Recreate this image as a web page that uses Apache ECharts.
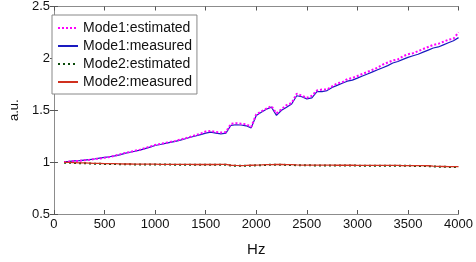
<!DOCTYPE html>
<html>
<head>
<meta charset="utf-8">
<script src="https://cdn.jsdelivr.net/npm/echarts@6/dist/echarts.min.js"></script>
<style>
  html, body { margin: 0; padding: 0; background: #fff; }
  #main { width: 476px; height: 262px; }
</style>
</head>
<body>
<div id="main"></div>
<script>
var freq = [100, 150, 200, 250, 300, 350, 400, 450, 500, 550, 600, 650, 700, 750, 800, 850, 900, 950,
  1000, 1050, 1100, 1150, 1200, 1250, 1300, 1350, 1400, 1450, 1500, 1550, 1600, 1650, 1700, 1750, 1800, 1850, 1900, 1950,
  2000, 2050, 2100, 2150, 2200, 2250, 2300, 2350, 2400, 2450, 2500, 2550, 2600, 2650, 2700, 2750, 2800, 2850, 2900, 2950,
  3000, 3050, 3100, 3150, 3200, 3250, 3300, 3350, 3400, 3450, 3500, 3550, 3600, 3650, 3700, 3750, 3800, 3850, 3900, 3950, 4000];

var mode1Measured = [1.005, 1.008, 1.012, 1.015, 1.02, 1.025, 1.03, 1.038, 1.045, 1.052, 1.06, 1.07, 1.085, 1.095, 1.105, 1.115, 1.13, 1.145,
  1.16, 1.17, 1.18, 1.19, 1.2, 1.212, 1.225, 1.24, 1.252, 1.265, 1.28, 1.29, 1.28, 1.272, 1.28, 1.355, 1.36, 1.358, 1.35, 1.33,
  1.45, 1.48, 1.51, 1.53, 1.45, 1.5, 1.53, 1.56, 1.64, 1.63, 1.61, 1.62, 1.68, 1.68, 1.69, 1.72, 1.74, 1.76, 1.78, 1.79,
  1.81, 1.83, 1.85, 1.87, 1.89, 1.91, 1.93, 1.955, 1.97, 1.99, 2.01, 2.025, 2.04, 2.06, 2.08, 2.1, 2.11, 2.13, 2.15, 2.17, 2.2];

var mode1Estimated = [1.0, 1.005, 1.01, 1.012, 1.018, 1.022, 1.03, 1.035, 1.042, 1.05, 1.062, 1.075, 1.088, 1.097, 1.11, 1.12, 1.135, 1.15,
  1.165, 1.175, 1.185, 1.195, 1.205, 1.218, 1.23, 1.245, 1.26, 1.275, 1.295, 1.3, 1.29, 1.285, 1.29, 1.37, 1.375, 1.37, 1.365, 1.34,
  1.46, 1.49, 1.515, 1.54, 1.47, 1.51, 1.55, 1.57, 1.66, 1.64, 1.62, 1.64, 1.69, 1.7, 1.7, 1.73, 1.76, 1.77, 1.8, 1.81,
  1.83, 1.85, 1.87, 1.89, 1.91, 1.94, 1.96, 1.98, 1.99, 2.02, 2.04, 2.05, 2.07, 2.09, 2.11, 2.13, 2.14, 2.16, 2.18, 2.19, 2.25];

var mode2Estimated = [0.995, 0.994, 0.992, 0.99, 0.989, 0.987, 0.985, 0.984, 0.983, 0.982, 0.982, 0.98, 0.979, 0.979, 0.978, 0.978, 0.977, 0.977,
  0.977, 0.976, 0.976, 0.976, 0.975, 0.975, 0.975, 0.975, 0.974, 0.974, 0.974, 0.974, 0.974, 0.975, 0.975, 0.967, 0.965, 0.964, 0.965, 0.967,
  0.969, 0.971, 0.973, 0.974, 0.975, 0.974, 0.973, 0.972, 0.97, 0.969, 0.969, 0.969, 0.968, 0.968, 0.968, 0.968, 0.967, 0.967, 0.967, 0.967,
  0.966, 0.966, 0.966, 0.966, 0.966, 0.965, 0.965, 0.965, 0.965, 0.964, 0.964, 0.964, 0.963, 0.963, 0.962, 0.958, 0.956, 0.955, 0.954, 0.954, 0.953];

var mode2Measured = [0.998, 0.997, 0.995, 0.993, 0.992, 0.99, 0.988, 0.987, 0.986, 0.985, 0.985, 0.983, 0.982, 0.982, 0.981, 0.981, 0.98, 0.98,
  0.98, 0.979, 0.979, 0.979, 0.978, 0.978, 0.978, 0.978, 0.977, 0.977, 0.977, 0.977, 0.977, 0.978, 0.978, 0.97, 0.968, 0.967, 0.968, 0.97,
  0.972, 0.973, 0.975, 0.976, 0.977, 0.977, 0.976, 0.975, 0.973, 0.972, 0.972, 0.972, 0.971, 0.971, 0.971, 0.971, 0.97, 0.97, 0.97, 0.97,
  0.969, 0.969, 0.969, 0.969, 0.969, 0.968, 0.968, 0.968, 0.968, 0.967, 0.967, 0.967, 0.966, 0.966, 0.965, 0.961, 0.959, 0.958, 0.957, 0.957, 0.956];

var xTicks = { min: 0, max: 4000, interval: 500 };
var yTicks = { min: 0.5, max: 2.5, interval: 0.5 };

function pairs(ys) {
  return freq.map(function (f, i) { return [f, ys[i]]; });
}

var chart = echarts.init(document.getElementById('main'), null, { renderer: 'canvas' });
var font = 'Liberation Sans, Arial, sans-serif';
var frame = '#8c8c8c';

var hiddenAxis = {
  axisLine: { show: true, lineStyle: { color: frame, width: 1 } },
  axisTick: { show: true, inside: true, length: 4, lineStyle: { color: '#555' } },
  axisLabel: { show: false },
  splitLine: { show: false }
};

var option = {
  animation: false,
  backgroundColor: '#fff',
  textStyle: { fontFamily: font },
  grid: { left: 37, right: 16, top: 5, bottom: 47, containLabel: false },
  legend: {
    orient: 'vertical',
    left: 52, top: 15,
    padding: [6, 5, 5, 5],
    borderColor: '#888', borderWidth: 1,
    backgroundColor: '#fff',
    itemWidth: 20, itemHeight: 14, itemGap: 4,
    itemStyle: { opacity: 0 },
    textStyle: { fontSize: 14, color: '#111', fontFamily: font },
    data: ['Mode1:estimated', 'Mode1:measured', 'Mode2:estimated', 'Mode2:measured']
  },
  xAxis: [
    Object.assign({
      type: 'value', min: xTicks.min, max: xTicks.max, interval: xTicks.interval,
      name: 'Hz', nameLocation: 'middle', nameGap: 28,
      nameTextStyle: { fontSize: 15, color: '#111', fontFamily: font },
      axisLabel: { show: true, fontSize: 13, color: '#111', margin: 4, fontFamily: font,
        formatter: function (v) { return String(v); } }
    }, { axisLine: hiddenAxis.axisLine, axisTick: hiddenAxis.axisTick, splitLine: hiddenAxis.splitLine }),
    Object.assign({
      type: 'value', position: 'top', min: xTicks.min, max: xTicks.max, interval: xTicks.interval
    }, hiddenAxis)
  ],
  yAxis: [
    Object.assign({
      type: 'value', min: yTicks.min, max: yTicks.max, interval: yTicks.interval,
      name: 'a.u.', nameLocation: 'middle', nameGap: 26, nameRotate: 90,
      nameTextStyle: { fontSize: 13, color: '#111', fontFamily: font },
      axisLabel: { show: true, fontSize: 13, color: '#111', margin: 4, fontFamily: font }
    }, { axisLine: hiddenAxis.axisLine, axisTick: hiddenAxis.axisTick, splitLine: hiddenAxis.splitLine }),
    Object.assign({
      type: 'value', position: 'right', min: yTicks.min, max: yTicks.max, interval: yTicks.interval
    }, hiddenAxis)
  ],
  series: [
    {
      name: 'Mode1:estimated', type: 'line', symbol: 'none', z: 4, data: pairs(mode1Estimated),
      itemStyle: { color: '#ff00ff' },
      lineStyle: { color: '#ff00ff', width: 2, type: [2, 2] }
    },
    {
      name: 'Mode1:measured', type: 'line', symbol: 'none', z: 3, data: pairs(mode1Measured),
      itemStyle: { color: '#1a1ac0' },
      lineStyle: { color: '#1a1ac0', width: 1.2 }
    },
    {
      name: 'Mode2:estimated', type: 'line', symbol: 'none', z: 3, data: pairs(mode2Estimated),
      itemStyle: { color: '#0a4a0a' },
      lineStyle: { color: '#0a4a0a', width: 2, type: [2, 3] }
    },
    {
      name: 'Mode2:measured', type: 'line', symbol: 'none', z: 4, data: pairs(mode2Measured),
      itemStyle: { color: '#d0301e' },
      lineStyle: { color: '#d0301e', width: 1.3 }
    }
  ]
};

chart.setOption(option);
</script>
</body>
</html>
